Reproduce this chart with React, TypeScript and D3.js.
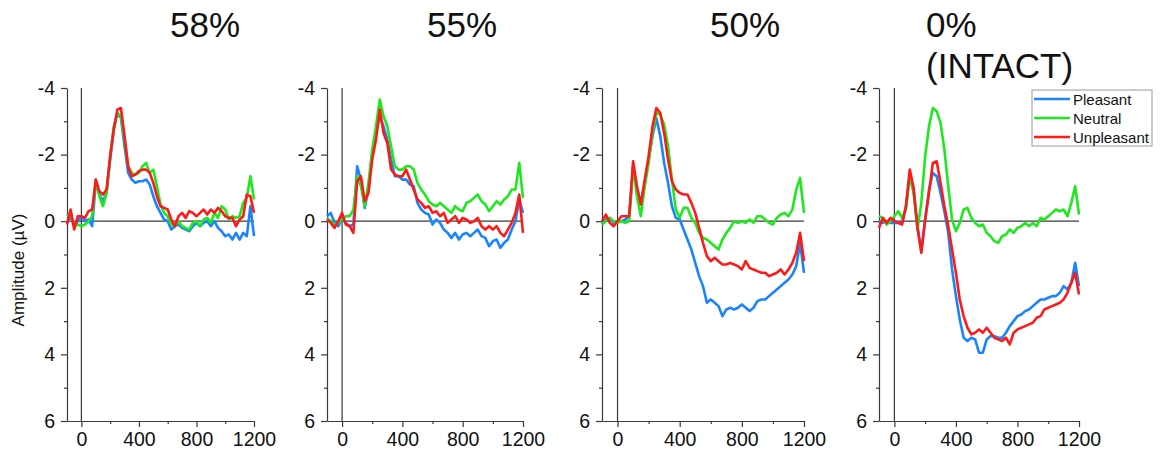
import { useEffect, useRef } from 'react';
import * as d3 from 'd3';

// time points (ms), shared by every panel
const TIMES = [-100, -75, -50, -25, 0, 25, 50, 75, 100, 125, 150, 175, 200, 225, 250, 275, 300, 325, 350, 375, 400, 425, 450, 475, 500, 525, 550, 575, 600, 625, 650, 675, 700, 725, 750, 775, 800, 825, 850, 875, 900, 925, 950, 975, 1000, 1025, 1050, 1075, 1100, 1125, 1150, 1175, 1200];

// 58% scrambled
const P58_PLEASANT = [0.05, -0.15, 0.15, 0, -0.15, 0, -0.05, 0.15, -1.15, -0.8, -0.6, -0.85, -1.85, -2.75, -3.25, -3.1, -2.25, -1.45, -1.25, -1.15, -1.2, -1.2, -1.25, -1.1, -0.75, -0.45, -0.25, -0.05, 0, 0.25, 0.15, 0.1, 0.2, 0.25, 0.3, 0.15, 0.05, 0.15, 0.05, 0, 0.15, 0, 0.2, 0.3, 0.45, 0.4, 0.55, 0.35, 0.55, 0.35, 0.45, -0.45, 0.45];
const P58_NEUTRAL = [-0.15, -0.25, 0.15, 0.1, 0.15, 0.1, 0, -0.15, -1.25, -0.75, -0.45, -0.85, -1.95, -2.85, -3.25, -3.15, -2.45, -1.65, -1.45, -1.4, -1.45, -1.65, -1.75, -1.45, -1.55, -1.05, -0.5, -0.25, -0.15, 0.1, 0.15, 0, 0.15, 0.2, 0.25, 0.05, 0, 0.15, -0.05, -0.1, 0.05, -0.25, -0.1, -0.45, -0.35, -0.05, -0.15, -0.1, -0.15, -0.55, -0.7, -1.35, -0.65];
const P58_UNPLEASANT = [0.1, -0.35, 0.25, -0.15, -0.15, -0.1, -0.3, -0.35, -1.25, -0.9, -0.8, -0.95, -1.95, -2.75, -3.35, -3.4, -2.55, -1.65, -1.35, -1.4, -1.5, -1.55, -1.55, -1.45, -1.15, -0.75, -0.45, -0.4, -0.35, -0.05, 0.15, -0.15, -0.25, -0.1, -0.3, -0.25, -0.15, -0.25, -0.35, -0.2, -0.35, -0.25, -0.4, -0.3, -0.15, -0.1, -0.1, 0.15, -0.05, -0.15, -0.8, -0.75, -0.25];

// 55% scrambled
const P55_PLEASANT = [-0.15, -0.25, 0.05, 0.15, -0.1, 0.05, 0.15, 0.1, -1.65, -1.25, -0.4, -0.95, -2.05, -2.65, -3.15, -2.85, -2.45, -1.85, -1.35, -1.35, -1.25, -1.25, -1.1, -1.05, -0.55, -0.35, -0.25, -0.2, 0.1, -0.05, 0.05, 0.25, 0.35, 0.5, 0.35, 0.55, 0.4, 0.35, 0.45, 0.35, 0.25, 0.45, 0.5, 0.75, 0.6, 0.55, 0.8, 0.65, 0.55, 0.25, 0, -0.65, -0.25];
const P55_NEUTRAL = [-0.1, 0, 0.1, 0.05, -0.05, -0.15, -0.15, -0.35, -1.35, -1.05, -0.45, -1.15, -2.15, -2.85, -3.65, -3.15, -2.85, -2.25, -1.65, -1.55, -1.55, -1.65, -1.65, -1.55, -1.15, -0.95, -0.8, -0.6, -0.5, -0.45, -0.55, -0.45, -0.35, -0.25, -0.45, -0.35, -0.3, -0.55, -0.6, -0.7, -0.8, -0.6, -0.5, -0.3, -0.45, -0.6, -0.5, -0.65, -0.75, -0.95, -0.95, -1.75, -0.7];
const P55_UNPLEASANT = [-0.05, 0.05, 0.2, 0, -0.25, 0.1, 0.15, 0.35, -1.2, -1.35, -0.6, -0.85, -1.85, -2.45, -3.35, -2.65, -2.35, -1.55, -1.4, -1.35, -1.35, -1.55, -1.25, -0.95, -0.65, -0.55, -0.4, -0.45, -0.25, -0.3, -0.15, -0.25, 0.05, -0.05, -0.15, 0.05, -0.1, -0.05, 0.05, 0, -0.1, 0.15, 0.25, 0.15, 0.25, 0.15, 0.35, 0.45, 0.25, 0.05, -0.25, -0.8, 0.35];

// 50% scrambled
const P50_PLEASANT = [0.1, -0.05, -0.1, 0.05, 0, 0, -0.05, -0.15, -1.6, -0.95, -0.55, -1.15, -1.85, -2.55, -3.1, -2.55, -1.75, -1.15, -0.45, -0.1, -0.05, 0.25, 0.55, 0.85, 1.25, 1.65, 1.95, 2.45, 2.35, 2.45, 2.55, 2.85, 2.65, 2.6, 2.65, 2.6, 2.5, 2.6, 2.7, 2.6, 2.4, 2.35, 2.35, 2.25, 2.15, 2.05, 1.95, 1.85, 1.75, 1.6, 1.35, 0.65, 1.55];
const P50_NEUTRAL = [0.1, 0, -0.1, 0, 0.05, 0, 0.05, 0, -1.65, -0.75, -0.15, -1.05, -1.75, -2.65, -3.25, -3.2, -2.9, -2.25, -1.25, -0.35, -0.1, -0.4, -0.4, -0.1, 0.05, 0.35, 0.5, 0.55, 0.65, 0.75, 0.85, 0.55, 0.35, 0.2, 0, 0.05, 0, 0.05, -0.05, 0.05, -0.15, -0.15, -0.05, 0.05, 0.1, -0.1, -0.2, -0.25, -0.15, -0.35, -0.95, -1.3, -0.25];
const P50_UNPLEASANT = [0, -0.2, 0.05, 0.15, 0, -0.15, -0.15, -0.15, -1.8, -1.05, -0.5, -1.25, -1.95, -2.85, -3.4, -3.25, -2.65, -1.85, -1.2, -0.95, -0.85, -0.8, -0.8, -0.55, -0.25, 0.2, 0.65, 1.05, 1.2, 1.1, 1.2, 1.3, 1.3, 1.25, 1.3, 1.35, 1.45, 1.2, 1.4, 1.45, 1.5, 1.55, 1.55, 1.65, 1.6, 1.55, 1.45, 1.6, 1.45, 1.25, 0.95, 0.35, 1.2];

// 0% (intact)
const P0_PLEASANT = [0, 0.05, 0, 0.05, 0.05, 0.05, 0.05, -0.45, -1.35, -0.9, 0.15, 0.9, -0.05, -0.95, -1.45, -1.35, -0.85, -0.3, 0.35, 1.45, 2.25, 2.95, 3.5, 3.6, 3.5, 3.55, 3.95, 3.95, 3.55, 3.45, 3.45, 3.5, 3.5, 3.35, 3.15, 3.0, 2.85, 2.8, 2.7, 2.65, 2.55, 2.45, 2.35, 2.35, 2.3, 2.25, 2.25, 2.15, 1.95, 2.05, 1.85, 1.25, 1.95];
const P0_NEUTRAL = [-0.15, -0.1, 0.1, 0, -0.15, -0.3, -0.1, -0.35, -1.35, -0.85, 0.25, -0.55, -1.95, -2.85, -3.4, -3.3, -2.95, -2.15, -1.05, -0.05, 0.3, 0.05, -0.35, -0.4, -0.1, 0.05, 0.15, 0.1, 0.35, 0.45, 0.6, 0.65, 0.45, 0.4, 0.25, 0.35, 0.2, 0.15, 0.05, 0.15, 0.05, 0.15, -0.1, -0.05, -0.15, -0.25, -0.35, -0.3, -0.35, -0.15, -0.55, -1.05, -0.2];
const P0_UNPLEASANT = [0.2, -0.1, 0.05, -0.1, 0, 0.05, 0.1, -0.45, -1.55, -1.0, 0.2, 0.95, -0.05, -0.85, -1.75, -1.8, -1.15, -0.45, 0.15, 0.85, 1.55, 2.35, 2.85, 3.2, 3.4, 3.35, 3.25, 3.35, 3.2, 3.35, 3.5, 3.55, 3.6, 3.5, 3.7, 3.35, 3.25, 3.2, 3.15, 3.1, 3.05, 2.9, 2.85, 2.65, 2.6, 2.55, 2.5, 2.45, 2.35, 2.15, 1.85, 1.55, 2.2];

const SERIES_NAMES = ['Pleasant', 'Neutral', 'Unpleasant'];
const PANEL_TITLES = [['58%'], ['55%'], ['50%'], ['0%', '(INTACT)']];
const PANEL_DATA = [
  [P58_PLEASANT, P58_NEUTRAL, P58_UNPLEASANT],
  [P55_PLEASANT, P55_NEUTRAL, P55_UNPLEASANT],
  [P50_PLEASANT, P50_NEUTRAL, P50_UNPLEASANT],
  [P0_PLEASANT, P0_NEUTRAL, P0_UNPLEASANT],
];

const Y_MAJOR = [-4, -2, 0, 2, 4, 6];
const Y_MINOR = [-3, -1, 1, 3, 5];
const X_MAJOR = [0, 400, 800, 1200];
const X_MINOR = [200, 600, 1000];

const COLORS = ['#1a84ff', '#1ee81e', '#ff1a1a'];
const FONT = '"Liberation Sans", Arial, sans-serif';
const WIDTH = 1162;
const HEIGHT = 457;

// pixel frame of each panel's plot area
const FRAMES = [
  { left: 67, right: 254, titleX: 205, anchor: 'middle' },
  { left: 327, right: 523, titleX: 462, anchor: 'middle' },
  { left: 602, right: 804, titleX: 745, anchor: 'middle' },
  { left: 879, right: 1079, titleX: 926, anchor: 'start' },
];

export default function App() {
  const svgRef = useRef<SVGSVGElement | null>(null);

  useEffect(() => {
    if (!svgRef.current) return;
    const svg = d3.select(svgRef.current);
    svg.selectAll('*').remove();

    const top = 88;
    const bottom = 421;
    const axisColor = '#3a3a3a';

    const yScale = d3.scaleLinear().domain([-4, 6]).range([top, bottom]);

    FRAMES.forEach((frame, pi) => {
      const xScale = d3.scaleLinear().domain([-100, 1200]).range([frame.left, frame.right]);
      const g = svg.append('g');

      // title
      const title = g.append('text')
        .attr('x', frame.titleX)
        .attr('y', 37)
        .attr('text-anchor', frame.anchor)
        .attr('font-family', FONT)
        .attr('font-size', 35)
        .attr('fill', '#111');
      PANEL_TITLES[pi].forEach((line, li) => {
        title.append('tspan')
          .attr('x', frame.titleX)
          .attr('dy', li === 0 ? 0 : 41)
          .text(line);
      });

      // zero lines
      g.append('line')
        .attr('x1', xScale(0)).attr('x2', xScale(0))
        .attr('y1', yScale(-4)).attr('y2', yScale(6))
        .attr('stroke', axisColor).attr('stroke-width', 1.2);
      g.append('line')
        .attr('x1', xScale(-100)).attr('x2', xScale(1200))
        .attr('y1', yScale(0)).attr('y2', yScale(0))
        .attr('stroke', axisColor).attr('stroke-width', 1.2);

      // y axis
      const yAxis = g.append('g')
        .attr('transform', `translate(${frame.left},0)`)
        .call(d3.axisLeft(yScale).tickValues(Y_MAJOR).tickSize(6).tickSizeOuter(0).tickPadding(6)
          .tickFormat((d) => String(d)));
      g.append('g')
        .attr('transform', `translate(${frame.left},0)`)
        .call(d3.axisLeft(yScale).tickValues(Y_MINOR).tickSize(3).tickSizeOuter(0).tickFormat(() => ''))
        .call((s) => s.select('.domain').remove());

      // x axis
      const xAxis = g.append('g')
        .attr('transform', `translate(0,${bottom})`)
        .call(d3.axisBottom(xScale).tickValues(X_MAJOR).tickSize(6).tickSizeOuter(0).tickPadding(5)
          .tickFormat((d) => String(d)));
      g.append('g')
        .attr('transform', `translate(0,${bottom})`)
        .call(d3.axisBottom(xScale).tickValues(X_MINOR).tickSize(3).tickSizeOuter(0).tickFormat(() => ''))
        .call((s) => s.select('.domain').remove());

      [yAxis, xAxis].forEach((ax) => {
        ax.selectAll('path, line').attr('stroke', axisColor).attr('stroke-width', 1.2);
        ax.selectAll('text').attr('font-family', FONT).attr('font-size', 19.5).attr('fill', '#111');
      });
      g.selectAll('g.tick line').attr('stroke', axisColor).attr('stroke-width', 1.2);

      // curves
      const line = d3.line<number>()
        .x((_, i) => xScale(TIMES[i]))
        .y((d) => yScale(d));

      PANEL_DATA[pi].forEach((values, si) => {
        g.append('path')
          .datum(values)
          .attr('fill', 'none')
          .attr('stroke', COLORS[si])
          .attr('stroke-width', 2.6)
          .attr('stroke-linejoin', 'round')
          .attr('d', line);
      });
    });

    // y axis label
    svg.append('text')
      .attr('transform', `translate(24,270) rotate(-90)`)
      .attr('text-anchor', 'middle')
      .attr('font-family', FONT)
      .attr('font-size', 17)
      .attr('fill', '#111')
      .text('Amplitude (µV)');

    // legend
    const legend = svg.append('g');
    legend.append('rect')
      .attr('x', 1032).attr('y', 90)
      .attr('width', 120).attr('height', 56)
      .attr('fill', '#fff')
      .attr('stroke', '#999');
    SERIES_NAMES.forEach((name, i) => {
      const cy = 99 + i * 19;
      legend.append('line')
        .attr('x1', 1034).attr('x2', 1070)
        .attr('y1', cy).attr('y2', cy)
        .attr('stroke', COLORS[i]).attr('stroke-width', 2.4);
      legend.append('text')
        .attr('x', 1073).attr('y', cy)
        .attr('dominant-baseline', 'central')
        .attr('font-family', FONT)
        .attr('font-size', 15)
        .attr('fill', '#111')
        .text(name);
    });
  }, []);

  return (
    <div style={{ position: 'absolute', left: 0, top: 0, background: '#fff' }}>
      <svg ref={svgRef} width={WIDTH} height={HEIGHT} style={{ display: 'block' }}></svg>
    </div>
  );
}
